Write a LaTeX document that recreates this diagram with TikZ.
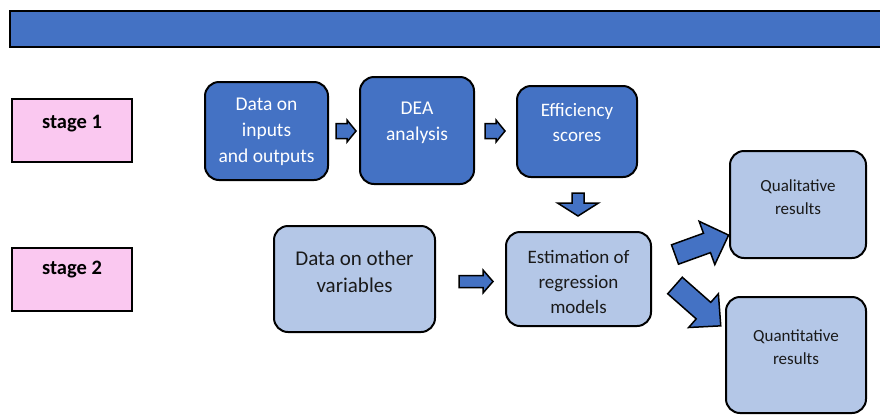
\documentclass[tikz,border=0pt]{standalone}
\usepackage{fontspec}
\setmainfont{Carlito}
\usetikzlibrary{calc}
\definecolor{dblue}{HTML}{4472C4}
\definecolor{lblue}{HTML}{B4C7E7}
\definecolor{spink}{HTML}{FAC8F0}
\definecolor{dtext}{HTML}{1A1A1A}
\begin{document}
\begin{tikzpicture}[x=1pt,y=-1pt,
  box/.style={draw=black,line width=2pt,rounded corners=14pt,inner sep=0pt},
  darkbox/.style={box,fill=dblue},
  lightbox/.style={box,fill=lblue},
  stagebox/.style={draw=black,line width=2pt,fill=spink,inner sep=0pt},
  barstyle/.style={draw=black,line width=2pt,fill=dblue,inner sep=0pt},
  wtxt/.style={text=white,align=center,inner sep=0pt,font=\fontsize{19.5}{26}\selectfont},
  otxt/.style={text=dtext,align=center,inner sep=0pt,font=\fontsize{21}{27}\selectfont},
  etxt/.style={text=dtext,align=center,inner sep=0pt,font=\fontsize{19}{25}\selectfont},
  rtxt/.style={text=dtext,align=center,inner sep=0pt,font=\fontsize{17}{23}\selectfont},
  stxt/.style={text=black,align=center,inner sep=0pt,font=\bfseries\fontsize{20.5}{22}\selectfont},
  barrowstyle/.style={draw=black,line width=1.5pt,fill=dblue,line join=miter},
  pics/barrow/.style n args={4}{code={
    \draw[barrowstyle] (0,-#2)--({#1-#4},-#2)--({#1-#4},-#3)--(#1,0)--({#1-#4},#3)--({#1-#4},#2)--(0,#2)--cycle;}}
]
\useasboundingbox (0,0) rectangle (880,416);
\clip (0,0) rectangle (880,416);

% top bar
\node[barstyle,minimum width=890,minimum height=36,anchor=north west] (bar) at (9,10) {};

% stage boxes
\node[stagebox,minimum width=120,minimum height=63] (s1) at (72,130.5) {};
\node[stxt] (s1t) at (72,124) {stage 1};
\node[stagebox,minimum width=120,minimum height=63] (s2) at (72,279.5) {};
\node[stxt] (s2t) at (72,270) {stage 2};

% stage 1 row
\node[darkbox,minimum width=123,minimum height=98] (b1) at (266.5,131) {};
\node[wtxt] (b1t) at (266.5,131.5) {Data on\\inputs\\ and outputs};
\node[darkbox,minimum width=114,minimum height=107] (b2) at (417,130.5) {};
\node[wtxt] (b2t) at (417,123) {DEA\\analysis};
\node[darkbox,minimum width=120,minimum height=91] (b3) at (577,131.5) {};
\node[wtxt,font=\fontsize{19}{25}\selectfont] (b3t) at (577,122.5) {Efficiency\\scores};

% stage 2 row
\node[lightbox,minimum width=161,minimum height=106] (ov) at (354.5,279) {};
\node[otxt] (ovt) at (354.5,271.5) {Data on other\\variables};
\node[lightbox,minimum width=145,minimum height=94] (est) at (578.5,279) {};
\node[etxt] (estt) at (578.5,282) {Estimation of\\regression\\models};
\node[lightbox,minimum width=136,minimum height=107] (ql) at (798,204.5) {};
\node[rtxt] (qlt) at (798,197.5) {Qualitative\\results};
\node[lightbox,minimum width=140,minimum height=116] (qn) at (796,355) {};
\node[rtxt] (qnt) at (796,347.5) {Quantitative\\results};

% block arrows
\pic at (336,131) {barrow={20}{7.5}{11}{9}};
\pic at (485,131) {barrow={20}{7.5}{11}{9}};
\pic at (459,281.5) {barrow={34}{6}{11.5}{10}};
\pic[rotate=-90] at (578,193) {barrow={23}{6}{20.5}{13}};
\pic[rotate=19.9] at (675,254.5) {barrow={57}{10.3}{23}{23}};
\pic[rotate=-41.4] at (675,285.5) {barrow={61}{11}{22.5}{23}};
\end{tikzpicture}
\end{document}
